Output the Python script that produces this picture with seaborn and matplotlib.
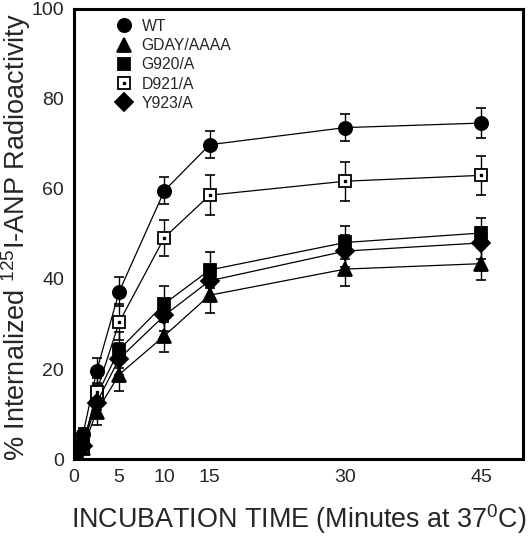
import matplotlib
matplotlib.use("Agg")
import matplotlib.pyplot as plt
import seaborn as sns
import pandas as pd
from matplotlib.lines import Line2D
from matplotlib.legend_handler import HandlerTuple

sns.set_style("white")
plt.rcParams['font.family'] = ['Liberation Sans', 'DejaVu Sans']
plt.rcParams['mathtext.fontset'] = 'custom'
plt.rcParams['mathtext.rm'] = 'Liberation Sans'

times = [0, 1, 2.5, 5, 10, 15, 30, 45]
series = ["WT", "GDAY/AAAA", "G920/A", "D921/A", "Y923/A"]
wt_mean = [1.0, 5.5, 19.5, 37.2, 59.6, 69.8, 73.6, 74.6]
wt_err = [0.8, 1.5, 3.0, 3.2, 3.0, 3.0, 3.0, 3.3]
gday_mean = [0.5, 2.5, 10.5, 18.8, 27.4, 36.4, 42.2, 43.4]
gday_err = [0.5, 1.0, 3.0, 3.7, 3.5, 4.0, 3.7, 3.7]
g920_mean = [0.8, 3.5, 14.0, 24.3, 34.5, 42.0, 48.1, 50.2]
g920_err = [0.6, 1.2, 3.0, 4.0, 4.0, 4.0, 3.7, 3.4]
d921_mean = [0.5, 2.7, 15.0, 30.4, 49.2, 58.6, 61.7, 63.0]
d921_err = [0.5, 1.0, 3.0, 4.0, 4.0, 4.4, 4.3, 4.3]
y923_mean = [0.6, 3.0, 12.5, 22.3, 31.9, 39.6, 46.2, 48.0]
y923_err = [0.6, 1.0, 3.0, 3.5, 3.5, 3.5, 3.5, 3.5]

means = [wt_mean, gday_mean, g920_mean, d921_mean, y923_mean]
errs = [wt_err, gday_err, g920_err, d921_err, y923_err]
markers = ["o", "^", "s", "s", "D"]
faces = ["black", "black", "black", "white", "black"]
msizes = [9.5, 9.5, 9.0, 9.0, 9.0]

fig = plt.figure(figsize=(5.28, 5.39), dpi=100)
ax = fig.add_axes([0.140, 0.148, 0.850, 0.836])

handles = []
for name, m, e, mk, fc, ms in zip(series, means, errs, markers, faces, msizes):
    df = pd.DataFrame({"time": times, "value": m})
    ax.errorbar(times, m, yerr=e, fmt="none", ecolor="black", elinewidth=1.0,
                capsize=3.6, capthick=1.2, zorder=2)
    sns.lineplot(data=df, x="time", y="value", ax=ax, color="black", lw=0.9,
                 marker=mk, markersize=ms, markerfacecolor=fc,
                 markeredgecolor="black", markeredgewidth=1.3, zorder=3,
                 legend=False)
    h = Line2D([], [], ls="none", marker=mk, markersize=ms, markerfacecolor=fc,
               markeredgecolor="black", markeredgewidth=1.3)
    if name == "D921/A":
        ax.plot(times, m, ls="none", marker="s", markersize=1.8, color="black", zorder=4)
        dot = Line2D([], [], ls="none", marker="s", markersize=1.8, color="black")
        handles.append((h, dot))
    else:
        handles.append(h)

ax.legend(handles, series, loc="upper left", bbox_to_anchor=(0.06, 1.0),
          frameon=False, fontsize=11.3, handletextpad=0.35, labelspacing=0.27,
          handlelength=1.6,
          handler_map={tuple: HandlerTuple(ndivide=1, pad=0)},
          borderaxespad=0.25)

ax.set_xlim(0, 49.6)
ax.set_ylim(0, 100)
ax.set_xticks([0, 5, 10, 15, 30, 45])
ax.set_yticks([0, 20, 40, 60, 80, 100])
ax.tick_params(axis="both", direction="inout", length=4, width=2, labelsize=14,
               color="black", pad=5)
for s in ax.spines.values():
    s.set_linewidth(2.2)
    s.set_color("black")

ax.set_xlabel("INCUBATION TIME (Minutes at 37$^{0}$C)", fontsize=19.4, labelpad=12)
ax.set_ylabel("% Internalized $^{125}$I-ANP Radioactivity", fontsize=19.5)
ax.yaxis.set_label_coords(-0.092, 0.493)

fig.savefig("out.png", dpi=100)
